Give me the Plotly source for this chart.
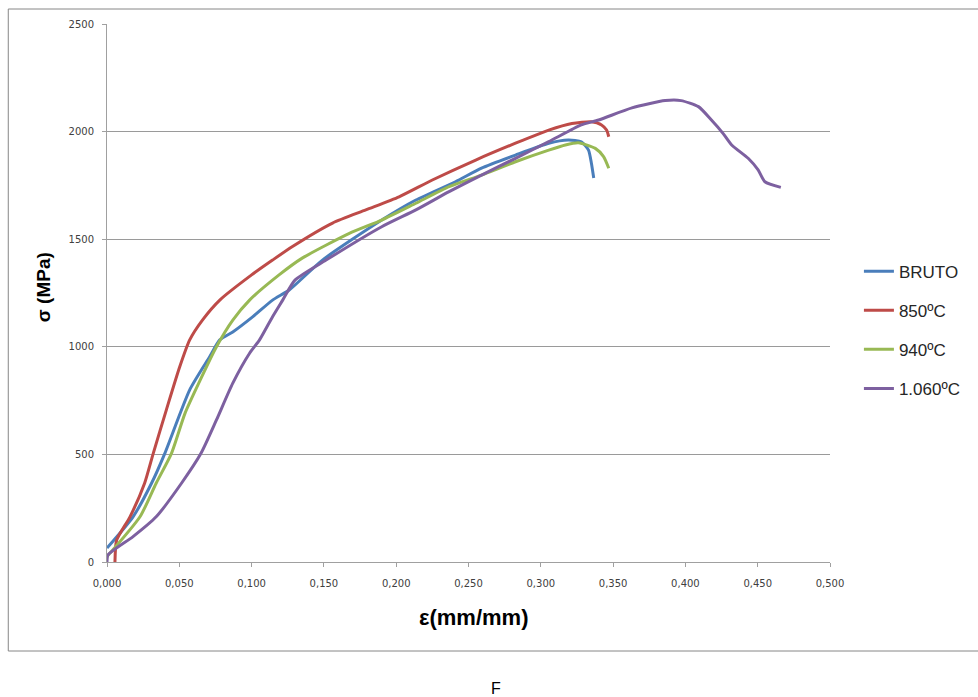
import plotly.graph_objects as go

# BRUTO
bruto_x = [0.0, 0.018, 0.0308, 0.040, 0.0572, 0.071, 0.078, 0.087, 0.1007, 0.1145, 0.126, 0.149,
           0.19, 0.2136, 0.241, 0.259, 0.2825, 0.3055, 0.319, 0.328, 0.333, 0.335, 0.3366]
bruto_y = [65, 210, 366, 505, 800, 954, 1032, 1069, 1139, 1217, 1264, 1403,
           1589, 1682, 1767, 1830, 1891, 1946, 1961, 1953, 1914, 1853, 1784]

# 850ºC
c850_x = [0.0055, 0.0067, 0.0159, 0.026, 0.032, 0.041, 0.0503, 0.0572, 0.066, 0.078, 0.1, 0.1145,
          0.128, 0.156, 0.179, 0.202, 0.225, 0.255, 0.2825, 0.3055, 0.3215, 0.335, 0.342,
          0.3455, 0.347]
c850_y = [0, 102, 210, 366, 505, 706, 907, 1032, 1124, 1217, 1334, 1403,
          1465, 1575, 1636, 1697, 1775, 1868, 1946, 2007, 2038, 2046, 2031,
          2007, 1976]

# 940ºC
c940_x = [0.0, 0.0228, 0.034, 0.0446, 0.054, 0.0645, 0.0757, 0.087, 0.0986, 0.119, 0.135,
          0.1676, 0.19, 0.2136, 0.2366, 0.259, 0.2825, 0.3055, 0.317, 0.326, 0.3377,
          0.3434, 0.347]
c940_y = [25, 210, 366, 505, 692, 846, 1000, 1124, 1217, 1334, 1412,
          1527, 1589, 1667, 1744, 1798, 1860, 1914, 1938, 1948, 1922,
          1884, 1830]

# 1.060ºC
c1060_x = [0.0, 0.0007, 0.018, 0.034, 0.0515, 0.065, 0.0757, 0.087, 0.0986, 0.1055,
           0.1145, 0.1215, 0.13, 0.1515, 0.19, 0.2136, 0.2366, 0.259, 0.2825, 0.3055, 0.328,
           0.34, 0.363, 0.386, 0.397, 0.409, 0.418, 0.426, 0.432, 0.4434, 0.4503, 0.455, 0.466]
c1060_y = [0, 33, 118, 210, 366, 505, 660, 831, 970, 1032,
           1140, 1217, 1310, 1403, 1558, 1636, 1721, 1798, 1876, 1953, 2031,
           2054, 2110, 2144, 2144, 2116, 2054, 1992, 1938, 1876, 1822, 1767, 1741]

names = ["BRUTO", "850ºC", "940ºC", "1.060ºC"]
colors = ["#4A7EBB", "#BE4B48", "#98B954", "#7D60A0"]
xs = [bruto_x, c850_x, c940_x, c1060_x]
ys = [bruto_y, c850_y, c940_y, c1060_y]

x_ticks = [0.0, 0.05, 0.1, 0.15, 0.2, 0.25, 0.3, 0.35, 0.4, 0.45, 0.5]
y_ticks = [0, 500, 1000, 1500, 2000, 2500]

fig = go.Figure()
for n, c, x, y in zip(names, colors, xs, ys):
    fig.add_trace(go.Scatter(x=x, y=y, mode="lines", name=n, legendgroup=n,
                             line=dict(color=c, width=3, shape="spline", smoothing=0.6)))

W, H = 978, 697
L, R, T, B = 107, 832, 24, 562

tickfont = dict(family="DejaVu Sans", size=10, color="#404040")
fig.update_layout(
    width=W, height=H,
    margin=dict(l=L, r=W - R, t=T, b=H - B),
    paper_bgcolor="white", plot_bgcolor="white",
    separators=",.",
    showlegend=True,
    legend=dict(x=1.04, xanchor="left", y=0.431, yanchor="middle",
                font=dict(family="Liberation Sans", size=17, color="#262626"),
                tracegroupgap=14, itemwidth=30, bgcolor="rgba(0,0,0,0)"),
    xaxis=dict(range=[0, 0.5], tickvals=x_ticks, tickformat=".3f",
               showgrid=False, zeroline=False, showline=True, linecolor="#A0A0A0",
               linewidth=1, ticks="outside", ticklen=4, tickcolor="#A0A0A0",
               tickfont=tickfont, ticklabelstandoff=8),
    yaxis=dict(range=[0, 2500], tickvals=y_ticks, tickformat="d",
               showgrid=True, gridcolor="#9A9A9A", gridwidth=1, zeroline=False,
               showline=True, linecolor="#A0A0A0", linewidth=1,
               ticks="outside", ticklen=4, tickcolor="#A0A0A0",
               tickfont=tickfont, ticklabelstandoff=6),
    shapes=[dict(type="rect", xref="paper", yref="paper",
                 x0=(8 - L) / (R - L), x1=(985 - L) / (R - L),
                 y0=(B - 651) / (B - T), y1=(B - 9) / (B - T),
                 line=dict(color="#868686", width=1), fillcolor="rgba(0,0,0,0)",
                 layer="below")],
    annotations=[
        dict(text="<b>σ (MPa)</b>", xref="paper", yref="paper",
             x=(43 - L) / (R - L), y=(B - 287) / (B - T), textangle=-90,
             showarrow=False, xanchor="center", yanchor="middle",
             font=dict(family="Liberation Sans", size=19, color="black")),
        dict(text="<b>ε(mm/mm)</b>", xref="paper", yref="paper",
             x=(475 - L) / (R - L), y=(B - 618) / (B - T),
             showarrow=False, xanchor="center", yanchor="middle",
             font=dict(family="Liberation Sans", size=22, color="black")),
        dict(text="F", xref="paper", yref="paper",
             x=(497 - L) / (R - L), y=(B - 688) / (B - T),
             showarrow=False, xanchor="center", yanchor="middle",
             font=dict(family="Liberation Sans", size=16, color="black")),
    ],
)

fig.write_html("out.html")
